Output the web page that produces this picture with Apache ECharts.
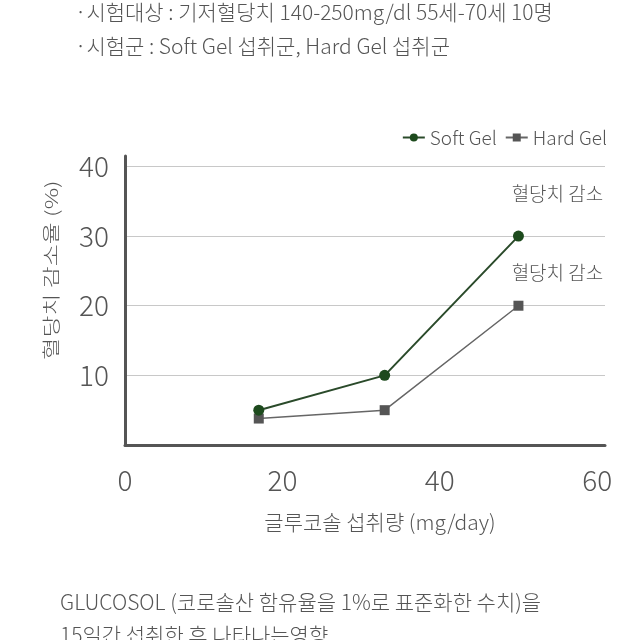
<!DOCTYPE html>
<html><head><meta charset="utf-8">
<script src="https://cdn.jsdelivr.net/npm/echarts@6/dist/echarts.min.js"></script>
<style>html,body{margin:0;padding:0;background:#fff}#c{width:640px;height:640px}</style>
</head><body><div id="c"></div>
<script>
const seriesNames = ['Soft Gel', 'Hard Gel'];
const doseX = [17, 33, 50];
const softGel = [5, 10, 30];
const hardGel = [3.8, 5, 20];
const xTicks = [0, 20, 40, 60];
const yTicks = [10, 20, 30, 40];
const annotations = ['혈당치 감소', '혈당치 감소'];
const headerLines = ['·시험대상 : 기저혈당치 140-250mg/dl 55세-70세 10명', '·시험군 : Soft Gel 섭취군, Hard Gel 섭취군'];
const footerLines = ['GLUCOSOL (코로솔산 함유율을 1%로 표준화한 수치)을', '15일간 섭취한 후 나타나는영향'];
const xName = '글루코솔 섭취량 (mg/day)';
const yName = '혈당치 감소율 (%)';

const FONT = '"Noto Sans CJK KR", "Noto Sans", sans-serif';
const TXT = '#555';
const chart = echarts.init(document.getElementById('c'));
chart.setOption({
  animation: false,
  backgroundColor: '#fff',
  textStyle: { fontFamily: FONT },
  grid: { left: 125, right: 35, top: 156, bottom: 195 },
  legend: {
    data: seriesNames, right: 28, top: 123, itemWidth: 22, itemHeight: 10, itemGap: 8,
    textStyle: { fontSize: 19, color: TXT, fontFamily: FONT, fontWeight: 300 }
  },
  xAxis: {
    type: 'value', min: 0, max: 61, interval: 20,
    axisLine: { show: true, lineStyle: { color: '#555', width: 3 } },
    axisTick: { show: false }, splitLine: { show: false },
    axisLabel: { showMaxLabel: false, margin: 21, fontSize: 28, color: TXT, fontFamily: FONT, fontWeight: 300,
      formatter: v => xTicks.includes(v) ? String(v) : '' }
  },
  yAxis: {
    type: 'value', min: 0, max: 41.5, interval: 10,
    axisLine: { show: true, lineStyle: { color: '#555', width: 3 } },
    axisTick: { show: false },
    splitLine: { show: true, showMinLine: false, showMaxLine: false, lineStyle: { color: '#c8c8c8', width: 1 } },
    axisLabel: { showMinLabel: false, showMaxLabel: false, margin: 16, fontSize: 28, color: TXT, fontFamily: FONT, fontWeight: 300,
      formatter: v => yTicks.includes(v) ? String(v) : '' }
  },
  series: [
    { name: seriesNames[0], type: 'line', data: doseX.map((x, i) => [x, softGel[i]]),
      symbol: 'circle', symbolSize: 11, itemStyle: { color: '#1d4a1d' }, lineStyle: { color: '#2a4a2a', width: 2 }, z: 3,
      label: { show: true, position: 'top', offset: [39, -22], fontSize: 19, color: TXT, fontFamily: FONT, fontWeight: 300,
        formatter: p => p.dataIndex === doseX.length - 1 ? annotations[0] : '' } },
    { name: seriesNames[1], type: 'line', data: doseX.map((x, i) => [x, hardGel[i]]),
      symbol: 'rect', symbolSize: 10, itemStyle: { color: '#555' }, lineStyle: { color: '#666', width: 1.5 }, z: 2,
      label: { show: true, position: 'top', offset: [39, -13], fontSize: 19, color: TXT, fontFamily: FONT, fontWeight: 300,
        formatter: p => p.dataIndex === doseX.length - 1 ? annotations[1] : '' } }
  ],
  graphic: [
    { type: 'text', left: 75, top: 2, style: { text: headerLines[0], fontSize: 21, fill: TXT, fontFamily: FONT, fontWeight: 300 } },
    { type: 'text', left: 75, top: 36, style: { text: headerLines[1], fontSize: 21, fill: TXT, fontFamily: FONT, fontWeight: 300 } },
    { type: 'text', x: 380, y: 522, style: { text: xName, fontSize: 21, fill: TXT, fontFamily: FONT, fontWeight: 300, align: 'center', verticalAlign: 'middle' } },
    { type: 'text', x: 51, y: 270, rotation: Math.PI / 2, scaleX: 1.14, scaleY: 0.85,
      style: { text: yName, fontSize: 21, fill: TXT, fontFamily: FONT, fontWeight: 300, align: 'center', verticalAlign: 'middle' } },
    { type: 'text', left: 60, top: 592, style: { text: footerLines[0], fontSize: 21, fill: TXT, fontFamily: FONT, fontWeight: 300 } },
    { type: 'text', left: 60, top: 625, style: { text: footerLines[1], fontSize: 21, fill: TXT, fontFamily: FONT, fontWeight: 300 } }
  ]
});
</script></body></html>
